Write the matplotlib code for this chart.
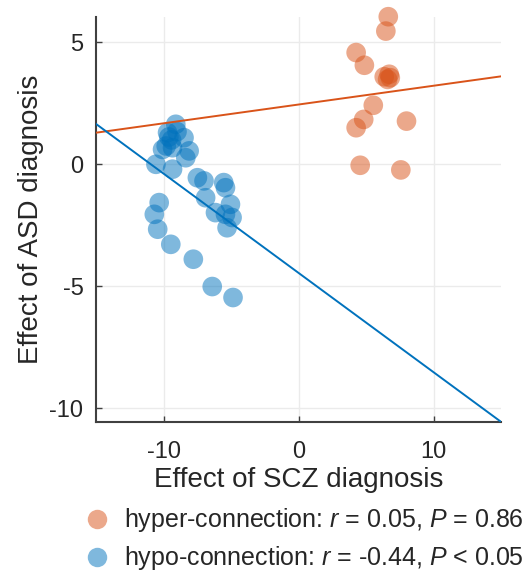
import numpy as np
import matplotlib
matplotlib.use('Agg')
import matplotlib.pyplot as plt
from matplotlib.lines import Line2D

plt.rcParams['font.family'] = ['Liberation Sans', 'DejaVu Sans']
plt.rcParams['mathtext.fontset'] = 'custom'
plt.rcParams['mathtext.it'] = 'Liberation Sans:italic'
plt.rcParams['mathtext.rm'] = 'Liberation Sans'
plt.rcParams['axes.unicode_minus'] = False

# hyper-connection points (SCZ effect, ASD effect)
hyper_x = [6.65, 6.47, 4.27, 4.88, 6.72, 6.35, 6.60, 6.80, 5.54, 4.83, 4.27, 8.00, 4.57, 7.58]
hyper_y = [6.05, 5.46, 4.58, 4.06, 3.69, 3.59, 3.48, 3.55, 2.42, 1.84, 1.50, 1.77, -0.04, -0.23]

# hypo-connection points
hypo_x = [-9.09, -9.70, -8.48, -9.80, -10.07, -9.33, -8.10, -8.35, -10.56, -9.33, -9.40,
          -7.49, -7.00, -5.54, -5.41, -6.88, -5.04, -10.32, -10.68, -6.15, -5.41, -4.92,
          -5.29, -10.43, -9.46, -7.79, -6.39, -4.85, -9.00, -9.60]
hypo_y = [1.64, 1.30, 1.09, 0.75, 0.61, 0.68, 0.55, 0.27, 0.00, -0.20, 1.00,
          -0.55, -0.68, -0.75, -0.96, -1.37, -1.64, -1.57, -2.05, -1.98, -2.05, -2.18,
          -2.60, -2.66, -3.28, -3.89, -5.01, -5.46, 1.34, 1.12]

# fitted lines (slope, intercept)
hyper_fit = (0.077, 2.45)
hypo_fit = (-0.407, -4.45)

hyper_label = r'hyper-connection: $\it{r}$ = 0.05, $\it{P}$ = 0.86'
hypo_label = r'hypo-connection: $\it{r}$ = -0.44, $\it{P}$ < 0.05'

orange = '#D95319'
blue = '#0072BD'

fig = plt.figure(figsize=(5.31, 5.74), dpi=100)
ax = fig.add_axes([96 / 531, 1 - 421.7 / 574, 405 / 531, (421.7 - 16.7) / 574])

xl = np.array([-15, 15])
ax.scatter(hyper_x, hyper_y, s=200, color=orange, alpha=0.5, edgecolors='none',
           zorder=3, clip_on=False)
ax.scatter(hypo_x, hypo_y, s=200, color=blue, alpha=0.5, edgecolors='none',
           zorder=3, clip_on=False)
ax.plot(xl, hyper_fit[0] * xl + hyper_fit[1], color=orange, lw=1.4, zorder=4)
ax.plot(xl, hypo_fit[0] * xl + hypo_fit[1], color=blue, lw=1.4, zorder=4)

ax.set_xlim(-15, 15)
ax.set_ylim(-10.55, 6.05)
ax.set_xticks([-10, 0, 10])
ax.set_yticks([-10, -5, 0, 5])
ax.grid(True, color='#ebebeb', lw=1)
ax.set_axisbelow(True)
for s in ['top', 'right']:
    ax.spines[s].set_visible(False)
for s in ['left', 'bottom']:
    ax.spines[s].set_color('#404040')
    ax.spines[s].set_linewidth(1.5)
ax.tick_params(direction='in', length=4, width=1, colors='#404040', labelsize=17,
               labelcolor='#262626', pad=9)
ax.tick_params(axis='x', pad=14)
ax.set_xlabel('Effect of SCZ diagnosis', fontsize=20, color='#262626', labelpad=3)
ax.set_ylabel('Effect of ASD diagnosis', fontsize=20, color='#262626', labelpad=4)

handles = [Line2D([], [], ls='none', marker='o', ms=14, color=orange, alpha=0.5, mec='none'),
           Line2D([], [], ls='none', marker='o', ms=14, color=blue, alpha=0.5, mec='none')]
fig.legend(handles, [hyper_label, hypo_label], loc='upper left',
           bbox_to_anchor=(72 / 531, 1 - 494 / 574), frameon=False, fontsize=18,
           handlelength=1.0, handletextpad=0.6, labelspacing=0.4, borderpad=0,
           labelcolor='#262626')

fig.savefig('out.png', dpi=100)
